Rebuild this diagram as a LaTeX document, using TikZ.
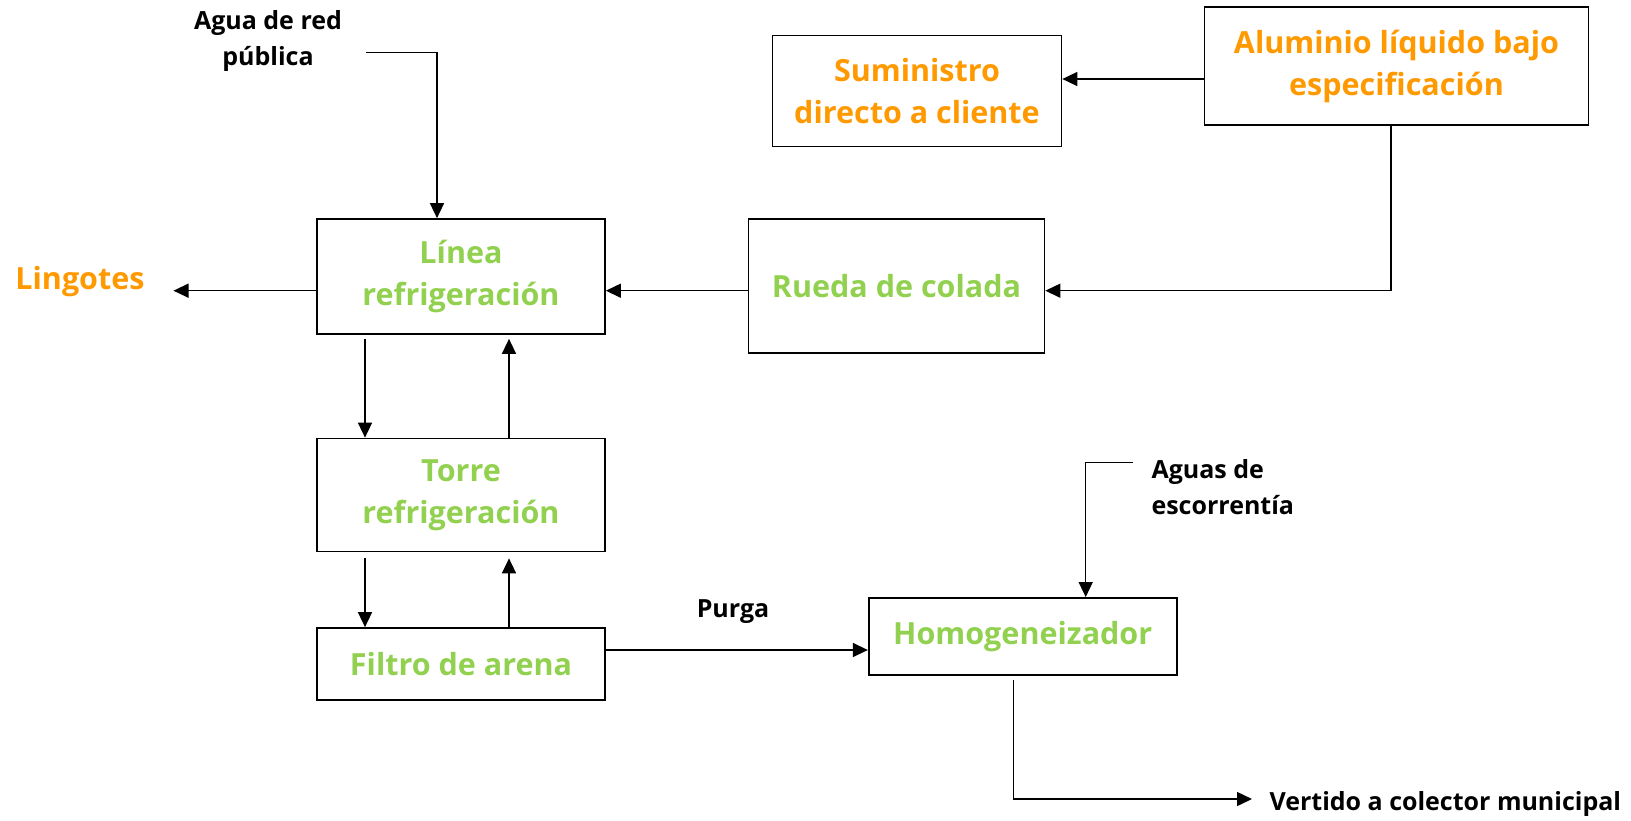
\documentclass[tikz,border=0pt]{standalone}
\usepackage{fontspec}
\usepackage{xcolor}
\setmainfont{Open Sans}
\usetikzlibrary{arrows.meta, positioning}
\definecolor{flowgreen}{HTML}{92D050}
\definecolor{floworange}{HTML}{FF9900}

\begin{document}
\begin{tikzpicture}[
    x=1pt, y=-1pt,
    stage/.style={rectangle, draw=black, line width=1.7pt, align=center, text=flowgreen, font=\bfseries\fontsize{30.5}{42}\selectfont},
    product/.style={stage, text=floworange},
    stream/.style={align=left, font=\bfseries\fontsize{25}{36}\selectfont},
    arrow/.style={line width=1.5pt, -{Triangle[length=15pt,width=14pt]}}
]
\useasboundingbox (0,0) rectangle (1631,820);

% process units
\node (linea) [stage, minimum width=288pt, minimum height=115pt] at (461,276.5) {Línea\\refrigeración};
\node (torre) [stage, minimum width=288pt, minimum height=113pt] at (461,495) {Torre\\refrigeración};
\node (filtro) [stage, minimum width=288pt, minimum height=72pt] at (461,664) {Filtro de arena};
\node (rueda) [stage, minimum width=296pt, minimum height=134pt] at (896.5,286) {Rueda de colada};
\node (homog) [stage, minimum width=308pt, minimum height=77pt] at (1022.7,636.4) {Homogeneizador};
\node (suministro) [product, minimum width=289pt, minimum height=111pt] at (917,91) {Suministro\\directo a cliente};
\node (aluminio) [product, minimum width=384pt, minimum height=118pt] at (1396.5,66) {Aluminio líquido bajo\\especificación};

% streams in and out
\node (agua) [stream, align=center] at (268,41) {Agua de red\\pública};
\node (lingotes) [stage, draw=none, text=floworange] at (80,282) {Lingotes};
\node (purga) [stream] at (733,612) {Purga};
\node (aguas) [stream, anchor=west] at (1148,487) {Aguas de\\escorrentía};
\node (vertido) [stream, anchor=west] at (1266,804) {Vertido a colector municipal};

\coordinate (aguaIn) at (366,52.7);
\coordinate (lingOut) at (173.5,290.7);
\coordinate (aluOut) at ([yshift=-13pt]aluminio.west);
\coordinate (purgaOut) at ([yshift=14pt]filtro.east);
\coordinate (aguasIn) at (1133,462.7);
\coordinate (vertOut) at (1252,799);

% connectors
\draw [arrow] (aguaIn) -| ([xshift=-24pt]linea.north);
\draw [arrow] (linea.west |- lingOut) -- (lingOut);
\draw [arrow] (rueda.west |- lingOut) -- (linea.east |- lingOut);
\draw [arrow] ([xshift=-5.5pt]aluminio.south) |- (rueda.east |- lingOut);
\draw [arrow] (aluOut) -- (suministro.east |- aluOut);
\draw [arrow] ([xshift=-96pt,yshift=-4pt]linea.south) -- ([xshift=-96pt]torre.north);
\draw [arrow] ([xshift=48pt]torre.north) -- ([xshift=48pt,yshift=-4pt]linea.south);
\draw [arrow] ([xshift=-96pt,yshift=-6pt]torre.south) -- ([xshift=-96pt]filtro.north);
\draw [arrow] ([xshift=48pt]filtro.north) -- ([xshift=48pt,yshift=-6pt]torre.south);
\draw [arrow] (purgaOut) -- (homog.west |- purgaOut);
\draw [arrow] (aguasIn) -| ([xshift=63pt]homog.north);
\draw [arrow] ([xshift=-9pt,yshift=-4pt]homog.south) |- (vertOut);

\end{tikzpicture}
\end{document}
